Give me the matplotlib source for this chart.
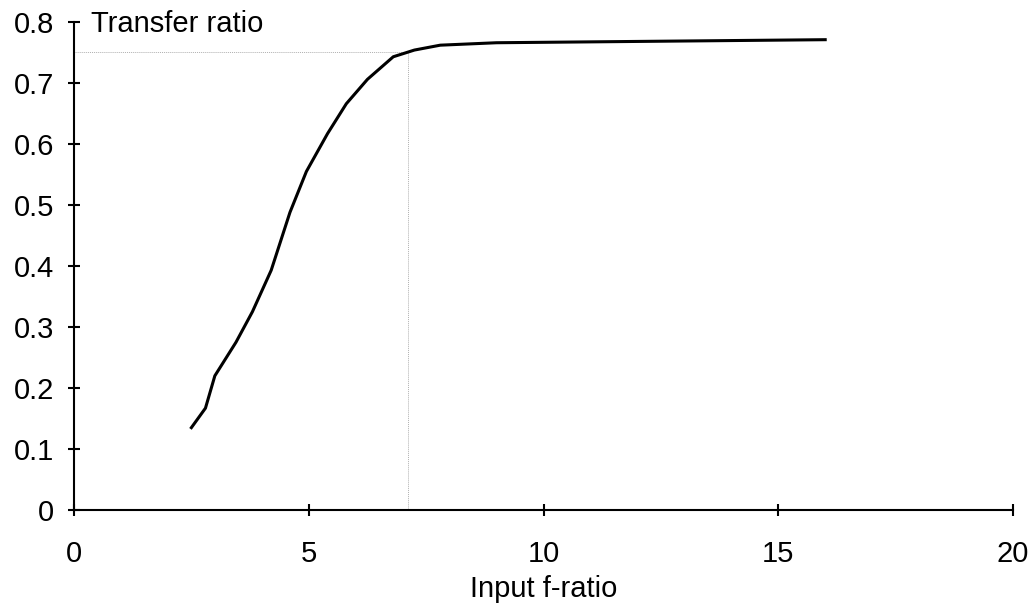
import matplotlib
matplotlib.use("Agg")
import matplotlib.pyplot as plt

plt.rcParams['font.family'] = ['Liberation Sans', 'DejaVu Sans']

input_f_ratio = [2.5, 2.8, 3.0, 3.45, 3.8, 4.2, 4.6, 4.95, 5.4, 5.8, 6.25, 6.8, 7.25, 7.8, 9.0, 16.0]
transfer_ratio = [0.135, 0.167, 0.22, 0.275, 0.325, 0.393, 0.488, 0.555, 0.617, 0.666, 0.706, 0.743, 0.754, 0.762, 0.766, 0.771]
ref_x = 7.12
ref_y = 0.751

x_ticks = [0, 5, 10, 15, 20]
y_ticks = [0, 0.1, 0.2, 0.3, 0.4, 0.5, 0.6, 0.7, 0.8]
y_tick_labels = ['0', '0.1', '0.2', '0.3', '0.4', '0.5', '0.6', '0.7', '0.8']

fig = plt.figure(figsize=(10.33, 6.05), dpi=100)
ax = fig.add_axes([74/1033, 1 - 510/605, (1013-74)/1033, (510-22)/605])

ax.plot([0, ref_x], [ref_y, ref_y], color='#b0b0b0', lw=0.7, ls=(0, (1, 1)), zorder=1)
ax.plot([ref_x, ref_x], [0, ref_y], color='#b0b0b0', lw=0.7, ls=(0, (1, 1)), zorder=1)
ax.plot(input_f_ratio, transfer_ratio, color='black', lw=2.2, zorder=3, solid_joinstyle='round')

ax.set_xlim(0, 20)
ax.set_ylim(0, 0.8)
ax.set_xticks(x_ticks)
ax.set_yticks(y_ticks)
ax.set_yticklabels(y_tick_labels)

for s in ['top', 'right']:
    ax.spines[s].set_visible(False)
for s in ['left', 'bottom']:
    ax.spines[s].set_linewidth(1.5)

ax.tick_params(axis='both', direction='inout', length=9, width=1.5, labelsize=21)
ax.tick_params(axis='x', pad=17)
ax.tick_params(axis='y', pad=10)

ax.set_xlabel('Input f-ratio', fontsize=21, labelpad=5)
fig.text(91/1033, 1 - 31.7/605, 'Transfer ratio', fontsize=21, ha='left', va='baseline')

fig.savefig('out.png', dpi=100)
